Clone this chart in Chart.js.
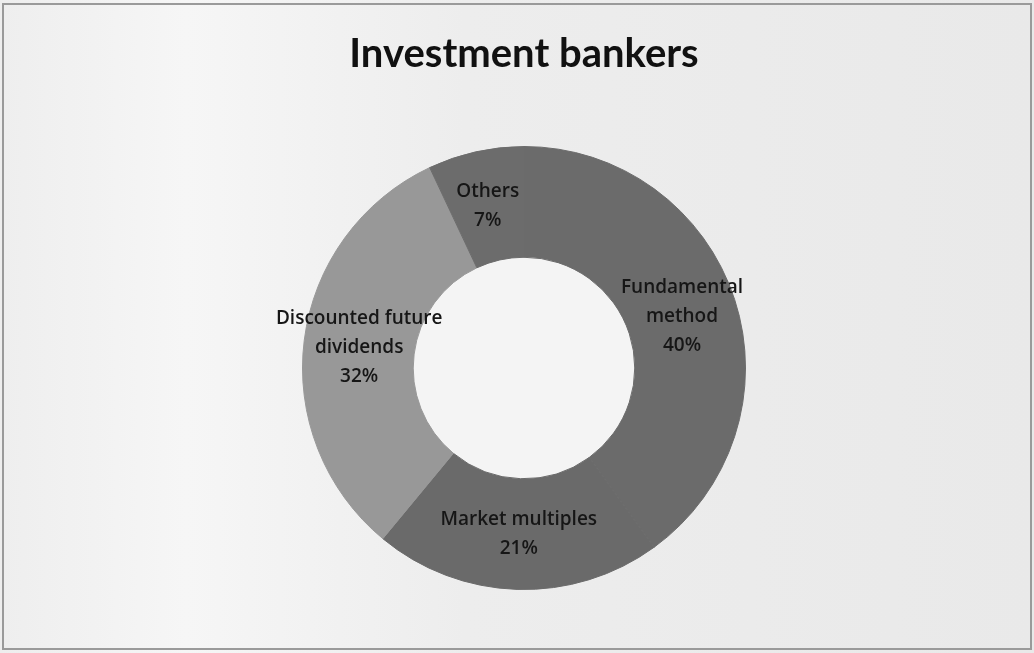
<!DOCTYPE html>
<html lang="en">
<head>
    <meta charset="UTF-8">
    <title>Investment bankers</title>
    <script src="https://cdn.jsdelivr.net/npm/chart.js"></script>
</head>
<body style="margin: 0; width: 1034px; height: 653px; overflow: hidden; background: linear-gradient(90deg, #eeeeee 0%, #f6f6f6 18%, #ededed 45%, #e9e9e9 100%); position: relative;">
    <div style="position: absolute; left: 2px; top: 3px; width: 1026px; height: 643px; border: 2px solid #9a9a9a;"></div>
    <div style="position: absolute; left: 0; top: 0; width: 1034px; height: 653px;">
        <canvas id="chart" width="1034" height="653"></canvas>
    </div>

    <script>
        // Valuation methods used by investment bankers (share of respondents, %)
        const categories = [['Fundamental', 'method'], ['Market multiples'], ['Discounted future', 'dividends'], ['Others']];
        const shares = [40, 21, 32, 7];
        const sliceColors = ['#6b6b6b', '#6a6a6a', '#989898', '#6c6c6c'];

        // Light fill inside the hole of the ring
        const holeFill = {
            id: 'holeFill',
            beforeDatasetsDraw(chart) {
                const arc = chart.getDatasetMeta(0).data[0];
                if (!arc) return;
                const ctx = chart.ctx;
                ctx.save();
                ctx.fillStyle = '#f4f4f4';
                ctx.beginPath();
                ctx.arc(arc.x, arc.y, arc.innerRadius, 0, Math.PI * 2);
                ctx.fill();
                ctx.restore();
            }
        };

        // Category name and percentage written in the middle of each ring segment
        const sliceLabels = {
            id: 'sliceLabels',
            afterDatasetsDraw(chart) {
                const ctx = chart.ctx;
                const meta = chart.getDatasetMeta(0);
                ctx.save();
                ctx.font = '600 19px "Open Sans", Lato, sans-serif';
                ctx.fillStyle = '#161616';
                ctx.textAlign = 'center';
                ctx.textBaseline = 'middle';
                const lineH = 29;
                meta.data.forEach((arc, i) => {
                    const pos = arc.tooltipPosition();
                    const lines = categories[i].concat([shares[i] + '%']);
                    const top = pos.y - (lines.length - 1) * lineH / 2;
                    lines.forEach((t, k) => ctx.fillText(t, pos.x, top + k * lineH));
                });
                ctx.restore();
            }
        };

        new Chart(document.getElementById('chart'), {
            type: 'doughnut',
            data: {
                labels: categories,
                datasets: [{
                    data: shares,
                    backgroundColor: sliceColors,
                    borderColor: sliceColors,
                    borderWidth: 1
                }]
            },
            options: {
                responsive: false,
                animation: false,
                cutout: '50%',
                layout: { padding: { left: 14, right: 0, top: 0, bottom: 63 } },
                plugins: {
                    legend: { display: false },
                    tooltip: { enabled: false },
                    title: {
                        display: true,
                        text: 'Investment bankers',
                        color: '#111',
                        font: { family: 'Lato, "Open Sans", sans-serif', size: 40, weight: 'bold' },
                        padding: { top: 30, bottom: 68 }
                    }
                }
            },
            plugins: [holeFill, sliceLabels]
        });
    </script>
</body>
</html>
